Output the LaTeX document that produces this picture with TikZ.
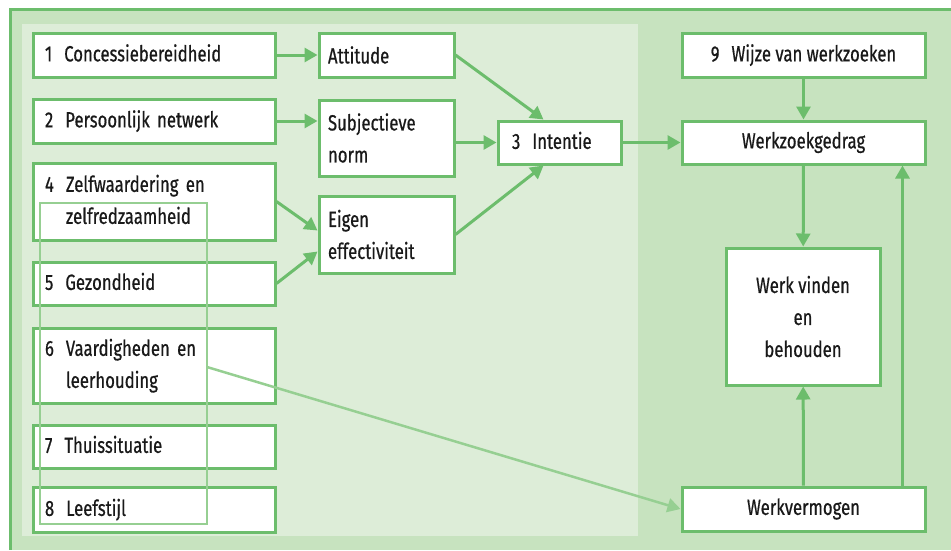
\documentclass[tikz,border=0pt]{standalone}
\usepackage{fontspec}
\setmainfont{Fira Sans}[FakeStretch=0.76, FakeBold=0.6]
\usetikzlibrary{shapes,arrows.meta}
\usetikzlibrary{calc}
\definecolor{frame}{RGB}{108,189,108}
\definecolor{pale}{RGB}{150,207,146}
\definecolor{outerbg}{RGB}{199,227,191}
\definecolor{innerbg}{RGB}{221,237,216}
\definecolor{ink}{RGB}{25,25,25}
\tikzstyle{line} = [draw=frame, line width=3pt, -{Triangle[length=13pt,width=14pt]}]
\tikzstyle{fbox} = [draw=frame, line width=3pt, fill=white, text=ink, minimum height=44pt, inner sep=0pt, font=\fontsize{22}{32}\selectfont]
\tikzstyle{lbox} = [fbox, text width=218pt, align=left, inner xsep=12pt]
\tikzstyle{mbox} = [fbox, text width=117pt, align=left, inner xsep=9pt]
\tikzstyle{rbox} = [fbox, minimum width=243pt, align=center]
\newcommand{\lbl}[2]{\begin{tabular}{@{}l@{\hspace{12pt}}l@{}}#1 & #2\end{tabular}}

\begin{document}
\begin{tikzpicture}[x=1pt,y=-1pt]
\useasboundingbox (0,0) rectangle (951,550);
% panels
\fill[outerbg] (10,9) rectangle (951,550);
\fill[innerbg] (22,24) rectangle (638,536);
\draw[frame, line width=3pt] (951,9) -- (10,9) -- (10,550);

% factors
 \node [lbox] (CB) at (154,55) {\lbl{1}{Concessiebereidheid}};
 \node [lbox] (PN) at (154,121) {\lbl{2}{Persoonlijk netwerk}};
 \node [lbox, minimum height=77pt] (ZW) at (154,201.5) {\lbl{4}{Zelfwaardering en\\ & zelfredzaamheid}};
 \node [lbox, minimum height=43pt] (GZ) at (154,283.5) {\lbl{5}{Gezondheid}};
 \node [lbox, minimum height=75pt] (VL) at (154,365.5) {\lbl{6}{Vaardigheden en\\ & leerhouding}};
 \node [lbox, minimum height=43pt] (TS) at (154,446.5) {\lbl{7}{Thuissituatie}};
 \node [lbox, minimum height=45pt] (LS) at (154,509.5) {\lbl{8}{Leefstijl}};

 \node [mbox, right of=CB, node distance=232.5pt] (AT) {Attitude};
 \node [mbox, minimum height=76pt] (SN) at (386.5,138) {Subjectieve\\norm};
 \node [mbox, minimum height=77pt] (EE) at (386.5,234.5) {Eigen\\effectiviteit};
 \node [fbox, text width=95pt, align=left, inner xsep=14pt, minimum height=43pt] (IN) at (559.5,142.5) {\lbl{3}{Intentie}};

 \node [rbox] (WW) at (803.5,55) {\lbl{9}{Wijze van werkzoeken}};
 \node [rbox, minimum height=43pt, right of=IN, node distance=244pt] (WG) {Werkzoekgedrag};
 \node [fbox, minimum width=154pt, minimum height=137pt, align=center] (WV) at (803,316.5) {Werk vinden\\en\\behouden};
 \node [rbox] (WM) at (803.5,509) {Werkvermogen};

% connectors
 \path [line] (CB) -- (AT);
 \path [line] (PN.east) -- (PN.east -| SN.west);
 \path [line] (AT.east) -- ([xshift=-16pt]IN.north);
 \path [line] (IN.west -| SN.east) -- (IN.west);
 \path [line] (EE.east) -- ([xshift=-16pt]IN.south);
 \path [line] (ZW.east) -- ([yshift=4pt]EE.west);
 \path [line] (GZ.east) -- ([yshift=-17pt]EE.west);
 \path [line] (IN) -- (WG);
 \path [line] (WW) -- (WG);
 \path [line] (WG) -- (WV);
 \path [line] (WM) -- (WV);
 \coordinate (up) at ([xshift=99pt]WM.north);
 \path [line] (up) -- (up |- WG.south);
 \coordinate (s6) at (207,367);
 \path [line, draw=pale, line width=2.5pt] (s6) -- (WM.west);
 \draw [pale, line width=1.5pt] (40,203) rectangle (207,524);
\end{tikzpicture}
\end{document}
